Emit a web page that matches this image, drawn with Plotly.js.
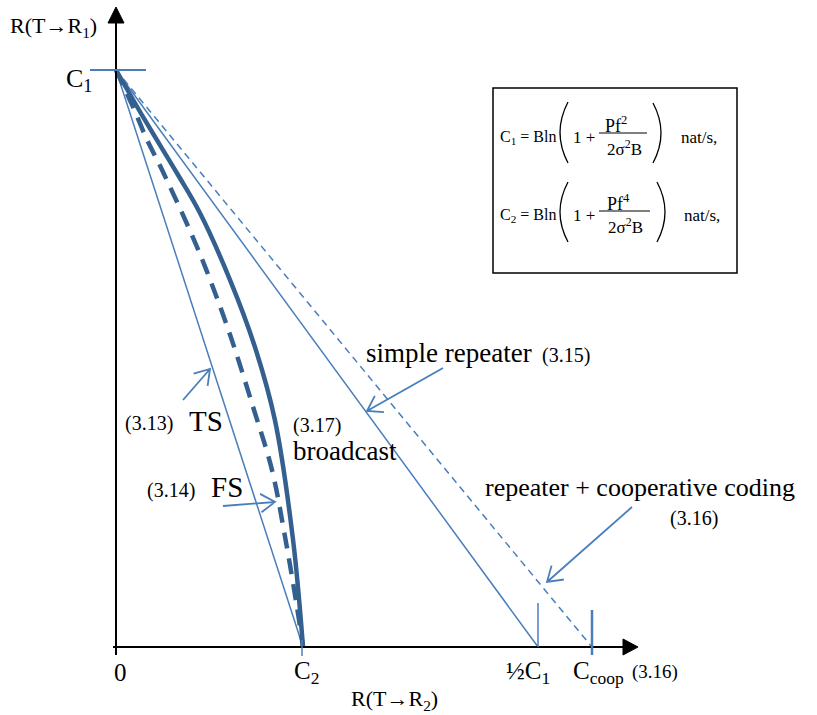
<!DOCTYPE html>
<html><head><meta charset="utf-8">
<script src="https://cdn.plot.ly/plotly-3.0.1.min.js"></script>
<style>html,body{margin:0;padding:0;background:#fff}</style>
</head><body><div id="chart" style="width:817px;height:715px"></div>
<script>
// ---- Data (normalized: x in units of C2, y in units of C1) ----
const C1 = 1;
const C2 = 1;
const halfC1 = 2.257;
const Ccoop = 2.545;
const tsX = [0, C2];          const tsY = [C1, 0];        // (3.13) TS
const repX = [0, halfC1];     const repY = [C1, 0];       // (3.15) simple repeater
const coopX = [0, Ccoop];     const coopY = [C1, 0];      // (3.16) repeater + cooperative coding
const bcX = [0, 0.155, 0.332, 0.449, 0.610, 0.743, 0.850, 0.947, 1.0];      // (3.17) broadcast
const bcY = [1, 0.913, 0.818, 0.752, 0.636, 0.520, 0.393, 0.185, 0];
const fsX = [0, 0.091, 0.166, 0.246, 0.406, 0.485, 0.610, 0.733, 0.834, 0.900, 0.968, 1.0]; // (3.14) FS
const fsY = [1, 0.936, 0.879, 0.827, 0.714, 0.652, 0.541, 0.416, 0.307, 0.198, 0.069, 0];

// ---- pixel helpers for the decoration layout ----
const W = 817, H = 715, X0 = 116, XS = 187, Y0 = 647, YS = 577;
const fx = p => (p - X0) / XS;
const fy = p => (Y0 - p) / YS;
const thin = '#4a7ebb', dark = '#34608f';
const serif = 'Liberation Serif, Times New Roman, serif';

const traces = [
  {x: tsX, y: tsY, mode: 'lines', line: {color: thin, width: 1.5}},
  {x: repX, y: repY, mode: 'lines', line: {color: thin, width: 1.5}},
  {x: coopX, y: coopY, mode: 'lines', line: {color: thin, width: 1.5, dash: '7px,5px'}},
  {x: fsX, y: fsY, mode: 'lines', line: {color: dark, width: 4.5, dash: '16px,10px', shape: 'spline', smoothing: 1}},
  {x: bcX, y: bcY, mode: 'lines', line: {color: dark, width: 4.5, shape: 'spline', smoothing: 1}}
].map(t => Object.assign(t, {hoverinfo: 'skip', showlegend: false}));

const shapes = [];
function seg(x0, y0, x1, y1, color, width) {
  shapes.push({type: 'line', xref: 'x', yref: 'y', x0: fx(x0), y0: fy(y0), x1: fx(x1), y1: fy(y1),
    line: {color: color, width: width}});
}
function path(pts, close, color, width, fill) {
  let d = pts.map((p, i) => (p[0] === 'M' ? 'M' : (i === 0 ? 'M' : 'L')) + ' ' + fx(p[1]) + ',' + fy(p[2])).join(' ');
  if (close) d += ' Z';
  shapes.push({type: 'path', xref: 'x', yref: 'y', path: d, line: {color: color, width: width},
    fillcolor: fill || 'rgba(0,0,0,0)'});
}
function arrow(x0, y0, x1, y1) {
  const a = Math.atan2(y1 - y0, x1 - x0), L = 17, th = 33 * Math.PI / 180;
  const h1 = [x1 - L * Math.cos(a - th), y1 - L * Math.sin(a - th)];
  const h2 = [x1 - L * Math.cos(a + th), y1 - L * Math.sin(a + th)];
  path([['M', x0, y0], ['L', x1, y1], ['M', h1[0], h1[1]], ['L', x1, y1], ['L', h2[0], h2[1]]], false, thin, 1.8);
}
function paren(xEnd, xMid, yTop, yBot) {
  const ctrl = 2 * xMid - xEnd;
  const d = 'M ' + fx(xEnd) + ',' + fy(yTop) + ' Q ' + fx(ctrl) + ',' + fy((yTop + yBot) / 2) + ' ' + fx(xEnd) + ',' + fy(yBot);
  shapes.push({type: 'path', xref: 'x', yref: 'y', path: d, line: {color: '#000', width: 1.3}});
}

// axes with arrow heads
seg(116, 655, 116, 22, '#000', 2);
path([['M', 108, 23], ['L', 116, 7], ['L', 124, 23]], true, '#000', 1, '#000');
seg(113, 647, 625, 647, '#000', 2);
path([['M', 623, 639], ['L', 638, 647], ['L', 623, 655]], true, '#000', 1, '#000');
// value ticks
seg(90, 70, 146, 70, thin, 2);
seg(302, 640, 302, 656, thin, 1.5);
seg(538, 603, 538, 647, thin, 1.5);
seg(592, 610, 592, 655, thin, 2.5);
// pointer arrows
arrow(183, 400, 210, 369);
arrow(223, 506, 275, 502);
arrow(443, 368, 367, 411);
arrow(632, 507, 547, 582);
// formula box
shapes.push({type: 'rect', xref: 'x', yref: 'y', x0: fx(493), y0: fy(88), x1: fx(737), y1: fy(273),
  line: {color: '#000', width: 1.5}});
seg(599, 133, 647, 133, '#000', 1);
seg(599, 211, 650, 211, '#000', 1);
paren(568, 560, 102, 163); paren(653, 661, 103, 163);
paren(568, 560, 182, 242); paren(657, 665, 182, 242);

const annotations = [];
function lab(text, x, baseline, size, anchor) {
  annotations.push({text: text, x: fx(x), y: fy(baseline - 0.32 * size), xref: 'x', yref: 'y',
    xanchor: anchor || 'left', yanchor: 'middle', showarrow: false,
    font: {family: serif, size: size, color: '#000'}});
}
lab('R(T→R<sub>1</sub>)', 8, 34, 22);
lab('C<sub>1</sub>', 64, 88, 26);
lab('0', 120, 680, 25, 'center');
lab('C<sub>2</sub>', 292, 680, 25);
lab('R(T→R<sub>2</sub>)', 349, 707, 22);
lab('½C<sub>1</sub>', 504, 680, 25);
lab('C<sub>coop</sub>', 571, 680, 25);
lab('(3.16)', 630, 678, 19);
lab('simple repeater', 364, 362, 27);
lab('(3.15)', 540, 362, 20);
lab('(3.13)', 123, 430, 20);
lab('TS', 187, 430, 29);
lab('(3.17)', 291, 432, 20);
lab('broadcast', 291, 460, 27);
lab('(3.14)', 145, 497, 20);
lab('FS', 209, 496, 29);
lab('repeater + cooperative coding', 483, 496, 26);
lab('(3.16)', 668, 525, 20);
// formulas
lab('C<sub>1</sub> = Bln', 558, 143, 16, 'right');
lab('1 +', 571, 143, 17);
lab('Pf<sup>2</sup>', 616, 130, 18, 'center');
lab('2σ<sup>2</sup>B', 624, 153, 17, 'center');
lab('nat/s,', 679, 143, 17);
lab('C<sub>2</sub> = Bln', 558, 221, 16, 'right');
lab('1 +', 571, 221, 17);
lab('Pf<sup>4</sup>', 618, 208, 18, 'center');
lab('2σ<sup>2</sup>B', 625, 231, 17, 'center');
lab('nat/s,', 682, 221, 17);

const layout = {
  width: W, height: H, autosize: false,
  margin: {l: 0, r: 0, t: 0, b: 0},
  paper_bgcolor: '#fff', plot_bgcolor: '#fff',
  xaxis: {range: [fx(0), fx(W)], visible: false, fixedrange: true},
  yaxis: {range: [fy(H), fy(0)], visible: false, fixedrange: true},
  shapes: shapes, annotations: annotations, showlegend: false
};
Plotly.newPlot('chart', traces, layout, {staticPlot: true, displayModeBar: false});
</script></body></html>
